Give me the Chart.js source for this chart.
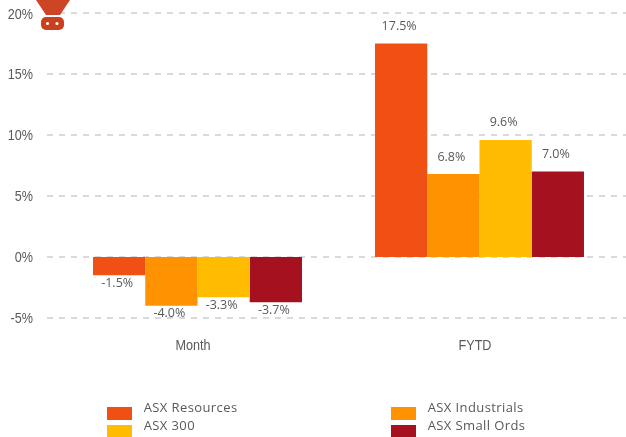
<!DOCTYPE html>
<html>
<head>
<meta charset="utf-8">
<title>ASX returns</title>
<script src="https://cdn.jsdelivr.net/npm/chart.js@4"></script>
<style>
html, body { margin: 0; padding: 0; background: #fff; }
#wrap { position: relative; width: 626px; height: 437px; overflow: hidden; }
</style>
</head>
<body>
<div id="wrap"><canvas id="chart" width="626" height="437"></canvas></div>
<script>
const categories = ['Month', 'FYTD'];
const seriesNames = ['ASX Resources', 'ASX Industrials', 'ASX 300', 'ASX Small Ords'];
const seriesColors = ['#F15015', '#FF9200', '#FFBC00', '#A5111E'];
const asxResources = [-1.5, 17.5];
const asxIndustrials = [-4.0, 6.8];
const asx300 = [-3.3, 9.6];
const asxSmallOrds = [-3.7, 7.0];
const seriesValues = [asxResources, asxIndustrials, asx300, asxSmallOrds];

const textColor = '#595959';

// gridlines run past the plot on both sides, so they are drawn here
const longGrid = {
    id: 'longGrid',
    beforeDatasetsDraw(chart) {
        const ctx = chart.ctx;
        const y = chart.scales.y;
        ctx.save();
        ctx.strokeStyle = '#D9D9D9';
        ctx.lineWidth = 2;
        ctx.setLineDash([6, 6]);
        y.ticks.forEach(t => {
            const py = y.getPixelForValue(t.value);
            ctx.beginPath();
            ctx.moveTo(47, py);
            ctx.lineTo(626, py);
            ctx.stroke();
        });
        ctx.restore();
    }
};

// no narrow font is installed, so the axis labels are squeezed by hand
const narrowAxisLabels = {
    id: 'narrowAxisLabels',
    afterDraw(chart) {
        const ctx = chart.ctx;
        const { x, y } = chart.scales;
        const put = (text, px, py, align) => {
            ctx.save();
            ctx.translate(px, py);
            ctx.scale(0.87, 1);
            ctx.textAlign = align;
            ctx.fillText(text, 0, 0);
            ctx.restore();
        };
        ctx.save();
        ctx.font = '14.5px "Liberation Sans"';
        ctx.fillStyle = textColor;
        ctx.textBaseline = 'middle';
        y.ticks.forEach(t => {
            // the top label sits a bit lower than its gridline in the original
            const nudge = t.value === y.max ? 2 : 0.5;
            put(t.label, 33, y.getPixelForValue(t.value) + nudge, 'right');
        });
        x.ticks.forEach((t, i) => put(t.label, x.getPixelForTick(i) - 4.5, 346, 'center'));
        ctx.restore();
    }
};

const valueLabels = {
    id: 'valueLabels',
    afterDatasetsDraw(chart) {
        const ctx = chart.ctx;
        ctx.save();
        ctx.font = '12.5px "Open Sans"';
        ctx.fillStyle = textColor;
        ctx.textAlign = 'center';
        ctx.textBaseline = 'middle';
        chart.data.datasets.forEach((ds, i) => {
            chart.getDatasetMeta(i).data.forEach((bar, j) => {
                const v = ds.data[j];
                const py = v < 0 ? bar.y + 8 : bar.y - 17;
                ctx.fillText(v.toFixed(1) + '%', bar.x - 2, py);
            });
        });
        ctx.restore();
    }
};

const gridLegend = {
    id: 'gridLegend',
    afterDraw(chart) {
        const ctx = chart.ctx;
        const cols = [107, 391];
        const rows = [408, 426];
        ctx.save();
        ctx.font = '13px "Open Sans"';
        ctx.letterSpacing = '0.4px';
        ctx.textBaseline = 'middle';
        seriesNames.forEach((name, i) => {
            const x = cols[i % 2];
            const y = rows[Math.floor(i / 2)];
            ctx.fillStyle = seriesColors[i];
            ctx.fillRect(x, y - 1, 25, 13);
            ctx.fillStyle = textColor;
            ctx.fillText(name, x + 36.7, y + 0.5);
        });
        ctx.restore();
    }
};

// small logo cut off at the top left of the original, gridline shows through a little
const logo = {
    id: 'logo',
    afterDraw(chart) {
        const ctx = chart.ctx;
        ctx.save();
        ctx.globalAlpha = 0.97;
        ctx.fillStyle = '#CC3F1E';
        ctx.beginPath();
        ctx.moveTo(36, 0);
        ctx.lineTo(70, 0);
        ctx.lineTo(60, 15);
        ctx.lineTo(46, 15);
        ctx.closePath();
        ctx.fill();
        ctx.globalAlpha = 1;
        ctx.beginPath();
        ctx.roundRect(41, 17, 23, 13, 5);
        ctx.fill();
        ctx.fillStyle = '#fff';
        ctx.beginPath();
        ctx.arc(47.5, 23.5, 1.6, 0, Math.PI * 2);
        ctx.arc(57, 23.5, 1.6, 0, Math.PI * 2);
        ctx.fill();
        ctx.restore();
    }
};

new Chart(document.getElementById('chart'), {
    type: 'bar',
    data: {
        labels: categories,
        datasets: seriesNames.map((name, i) => ({
            label: name,
            data: seriesValues[i],
            backgroundColor: seriesColors[i],
            borderWidth: 0,
            categoryPercentage: 0.741,
            barPercentage: 1
        }))
    },
    options: {
        responsive: false,
        animation: false,
        layout: {
            autoPadding: false,
            padding: { top: 13, right: 5.5, left: 0, bottom: 0 }
        },
        plugins: {
            legend: { display: false },
            tooltip: { enabled: false }
        },
        scales: {
            x: {
                grid: { display: false },
                border: { display: false },
                ticks: { display: false },
                afterFit(scale) { scale.height = 119; }
            },
            y: {
                min: -5,
                max: 20,
                grid: { display: false, drawTicks: false },
                border: { display: false },
                ticks: {
                    display: false,
                    stepSize: 5,
                    callback: v => v + '%'
                },
                afterFit(scale) { scale.width = 56.5; }
            }
        }
    },
    plugins: [longGrid, valueLabels, narrowAxisLabels, gridLegend, logo]
});
</script>
</body>
</html>
